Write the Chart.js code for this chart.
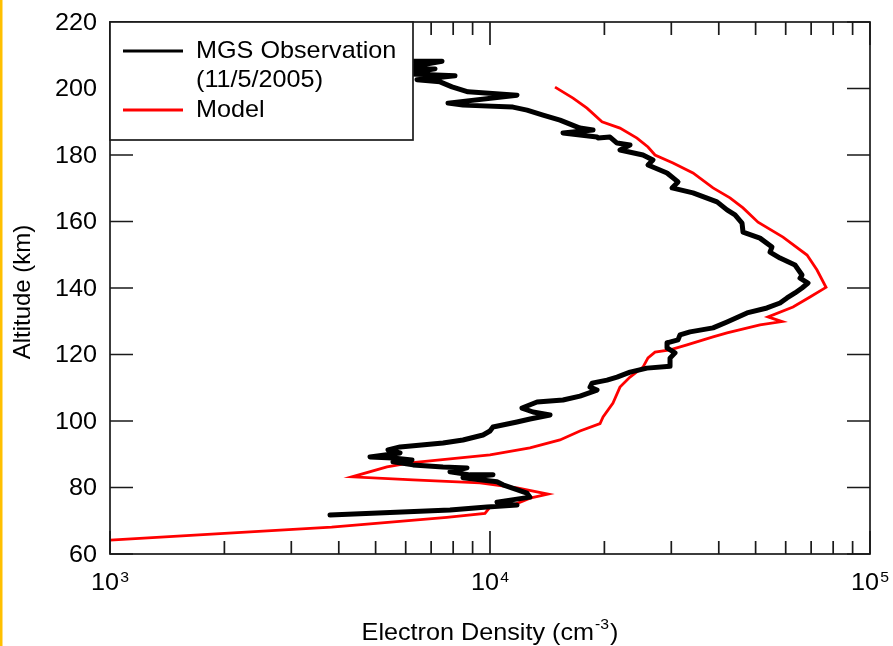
<!DOCTYPE html>
<html><head><meta charset="utf-8">
<script src="https://cdn.jsdelivr.net/npm/chart.js@4.4.1/dist/chart.umd.min.js"></script>
<style>html,body{margin:0;padding:0;background:#fff;overflow:hidden}#wrap{width:893px;height:646px;position:relative}canvas{display:block}</style>
</head><body><div id="wrap"><canvas id="c" width="893" height="646"></canvas></div>
<script>
// ---- data (altitude in km, electron density in cm^-3) ----
const obsAltitude = [208.2,208.2,206.2,205.9,204.4,203.8,202.6,202.0,200.5,199.0,
  198.0,195.6,195.0,194.4,193.5,192.0,190.5,188.1,187.5,186.6,
  185.4,185.1,185.4,183.6,183.0,181.5,180.0,178.5,177.0,174.6,
  171.9,170.1,168.6,165.9,163.5,162.0,159.5,156.8,155.0,152.3,
  150.8,149.0,146.9,143.9,143.0,141.5,140.0,138.5,137.0,135.5,
  134.0,132.5,129.8,128.0,126.8,125.9,124.4,123.5,122.0,120.5,
  118.9,116.5,115.9,114.7,113.2,112.3,111.4,110.2,109.3,107.5,
  106.3,105.7,103.9,102.7,101.8,100.6,99.7,98.2,97.0,95.8,
  94.3,93.4,92.2,91.3,90.4,89.2,88.9,88.3,87.7,86.8,
  86.2,85.9,84.7,83.8,83.8,82.9,81.7,80.8,78.3,77.1,
  75.6,74.7,74.1,73.2,71.7];
const obsDensity = [5970,7477,5970,7166,5970,8089,6425,7387,7943,8752,
  11777,7754,8490,11494,12515,13789,15283,17250,18669,15564,
  19127,19243,20694,21591,23357,21987,25268,26846,26046,29233,
  31246,30130,34216,39583,42048,44134,46053,46330,51336,55215,
  54545,57977,63480,66241,65444,68687,66241,63480,60482,57977,
  53561,47463,42048,38631,33599,31623,31246,29233,29233,30683,
  29768,29768,25891,23357,21591,20320,18557,18335,19127,17250,
  15564,13297,12140,12979,14386,12745,11777,10182,10000,9585,
  8490,7523,5798,5390,5798,4833,5555,6233,5555,6272,
  7523,8699,7848,8859,10182,8490,10432,10820,12515,12745,
  10432,11777,9820,7848,3793];
const modelAltitude = [200.4,197.1,194.1,190.0,188.1,185.1,182.4,180.0,177.6,174.6,
  170.1,167.1,164.1,159.8,155.3,149.9,145.4,140.2,137.3,134.3,
  131.3,129.9,128.9,126.5,125.3,122.9,121.4,120.7,119.0,116.2,
  113.2,110.2,105.4,101.2,99.2,97.0,94.3,91.9,89.8,88.3,
  87.4,86.2,83.2,82.3,81.4,79.9,78.0,76.8,74.7,74.1,
  72.2,71.0,68.1,66.2,64.2];
const modelDensity = [14830,16540,18000,19710,21980,24370,26050,27180,30310,34210,
  38630,42810,46330,50740,59030,68280,72540,76600,69520,62720,
  53900,58670,51350,42050,38630,32990,29770,27180,26050,25270,
  23360,21980,21070,19840,19480,17250,15280,12740,10000,7390,
  6160,5357,4334,6270,9413,11780,14210,12740,11500,10000,
  9700,7700,3830,2000,1000];
const yTickValues = [60,80,100,120,140,160,180,200,220];
const xMajorTicks = [1000,10000,100000];
const xMajorExponents = ['3','4','5'];
const xMinorTicks = [2000,3000,4000,5000,6000,7000,8000,9000,20000,30000,40000,50000,60000,70000,80000,90000];
const legendLabels = ['MGS Observation','(11/5/2005)','Model'];
const xTitleParts = ['Electron Density (cm','-3',')'];
const yTitle = 'Altitude (km)';

const FONT = '"Liberation Sans", Arial, Helvetica, sans-serif';
const STRETCH = 1.05;

function toPoints(xs, ys){ return xs.map((v,i)=>({x:v, y:ys[i]})); }

// draw text horizontally stretched; align: 'left' | 'right' | 'center'
function txt(ctx, str, x, y, size, align){
  ctx.font = size + 'px ' + FONT;
  const w = ctx.measureText(str).width * STRETCH;
  let sx = x;
  if (align === 'right') sx = x - w; else if (align === 'center') sx = x - w/2;
  ctx.save(); ctx.translate(sx, y); ctx.scale(STRETCH, 1);
  ctx.textAlign = 'left'; ctx.fillText(str, 0, 0); ctx.restore();
  return w;
}
function tw(ctx, str, size){ ctx.font = size + 'px ' + FONT; return ctx.measureText(str).width * STRETCH; }

const framePlugin = {
  id: 'frame',
  beforeDraw(chart){
    const ctx = chart.ctx;
    ctx.save();
    ctx.fillStyle = '#fff'; ctx.fillRect(0,0,chart.width,chart.height);
    ctx.fillStyle = '#FFC000'; ctx.fillRect(0,0,2.5,chart.height);
    ctx.restore();
  },
  afterDatasetsDraw(chart){
    const ctx = chart.ctx, a = chart.chartArea, x = chart.scales.x, y = chart.scales.y;
    ctx.save();
    ctx.strokeStyle = '#1a1a1a'; ctx.lineWidth = 1.7; ctx.lineCap = 'butt';
    ctx.beginPath();
    yTickValues.forEach(v=>{
      const py = y.getPixelForValue(v);
      ctx.moveTo(a.left,py); ctx.lineTo(a.left+23,py);
      ctx.moveTo(a.right,py); ctx.lineTo(a.right-23,py);
    });
    xMinorTicks.forEach(v=>{
      const px = x.getPixelForValue(v);
      ctx.moveTo(px,a.bottom); ctx.lineTo(px,a.bottom-13);
      ctx.moveTo(px,a.top); ctx.lineTo(px,a.top+13);
    });
    xMajorTicks.forEach(v=>{
      const px = x.getPixelForValue(v);
      ctx.moveTo(px,a.bottom); ctx.lineTo(px,a.bottom-23);
      ctx.moveTo(px,a.top); ctx.lineTo(px,a.top+23);
    });
    ctx.stroke();
    ctx.strokeRect(a.left,a.top,a.right-a.left,a.bottom-a.top);

    // legend box inside plot area
    const lx = a.left, ly = a.top, lw = 303, lh = 118;
    ctx.fillStyle = '#fff'; ctx.fillRect(lx,ly,lw,lh);
    ctx.strokeStyle = '#1a1a1a'; ctx.lineWidth = 1.7; ctx.strokeRect(lx,ly,lw,lh);
    ctx.strokeStyle = '#000'; ctx.lineWidth = 3;
    ctx.beginPath(); ctx.moveTo(lx+13,ly+29); ctx.lineTo(lx+73,ly+29); ctx.stroke();
    ctx.strokeStyle = '#ff0000'; ctx.lineWidth = 2.8;
    ctx.beginPath(); ctx.moveTo(lx+13,ly+88); ctx.lineTo(lx+73,ly+88); ctx.stroke();
    ctx.fillStyle = '#000'; ctx.textBaseline = 'middle';
    txt(ctx, legendLabels[0], lx+86, ly+29, 24, 'left');
    txt(ctx, legendLabels[1], lx+86, ly+58, 24, 'left');
    txt(ctx, legendLabels[2], lx+86, ly+88, 24, 'left');

    // y tick labels
    ctx.textBaseline = 'middle';
    yTickValues.forEach(v=>{ txt(ctx, String(v), a.left-13, y.getPixelForValue(v)+1, 24, 'right'); });

    // x tick labels with superscript exponents
    ctx.textBaseline = 'alphabetic';
    xMajorTicks.forEach((v,i)=>{
      const px = x.getPixelForValue(v);
      const wb = tw(ctx, '10', 24), we = tw(ctx, xMajorExponents[i], 15);
      const start = px - (wb+we+1)/2;
      txt(ctx, '10', start, a.bottom+36, 24, 'left');
      txt(ctx, xMajorExponents[i], start+wb+1, a.bottom+28, 15, 'left');
    });

    // x title
    const w1 = tw(ctx, xTitleParts[0], 24), w2 = tw(ctx, xTitleParts[1], 15), w3 = tw(ctx, xTitleParts[2], 24);
    const cx = (a.left+a.right)/2; const sx = cx - (w1+w2+w3+2)/2;
    txt(ctx, xTitleParts[0], sx, a.bottom+86, 24, 'left');
    txt(ctx, xTitleParts[1], sx+w1+1, a.bottom+75, 15, 'left');
    txt(ctx, xTitleParts[2], sx+w1+w2+2, a.bottom+86, 24, 'left');

    // y title
    ctx.save();
    ctx.translate(23, (a.top+a.bottom)/2+4); ctx.rotate(-Math.PI/2);
    ctx.textAlign = 'center'; ctx.textBaseline = 'middle'; ctx.font = '24px '+FONT;
    ctx.fillText(yTitle, 0, 0);
    ctx.restore();
    ctx.restore();
  }
};

new Chart(document.getElementById('c'), {
  type: 'scatter',
  data: { datasets: [
    { label: legendLabels[0], data: toPoints(obsDensity, obsAltitude), showLine: true,
      borderColor: '#000', backgroundColor: '#000', borderWidth: 5, pointRadius: 0,
      borderJoinStyle: 'round', borderCapStyle: 'round', tension: 0 },
    { label: legendLabels[2], data: toPoints(modelDensity, modelAltitude), showLine: true,
      borderColor: '#ff0000', backgroundColor: '#ff0000', borderWidth: 2.8, pointRadius: 0,
      borderJoinStyle: 'miter', tension: 0 }
  ]},
  options: {
    responsive: false, animation: false, devicePixelRatio: 1,
    layout: { padding: { left: 110, right: 23, top: 22, bottom: 92 } },
    scales: {
      x: { type: 'logarithmic', min: 1000, max: 100000, display: false },
      y: { type: 'linear', min: 60, max: 220, display: false }
    },
    plugins: { legend: { display: false }, tooltip: { enabled: false } }
  },
  plugins: [framePlugin]
});
</script>
</body></html>
